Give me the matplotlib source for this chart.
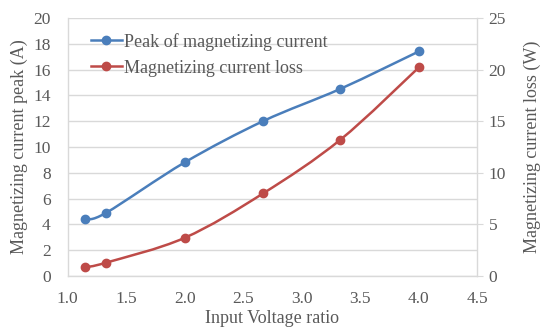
import matplotlib
matplotlib.use("Agg")
import matplotlib.pyplot as plt
from matplotlib.path import Path
from matplotlib.patches import PathPatch
from matplotlib.lines import Line2D
import numpy as np

voltage_ratio = [1.15, 1.33, 2.0, 2.67, 3.33, 4.0]
peak_current = [4.4, 4.9, 8.8, 12.0, 14.5, 17.4]
current_loss = [0.85, 1.3, 3.7, 8.0, 13.2, 20.2]

x_ticks = [1.0, 1.5, 2.0, 2.5, 3.0, 3.5, 4.0, 4.5]
y_left_ticks = list(range(0, 21, 2))
y_right_ticks = list(range(0, 26, 5))

BLUE = "#4A7EBB"
RED = "#BE4B48"
TXT = "#595959"
GRID = "#D9D9D9"

plt.rcParams['font.family'] = ['Liberation Serif', 'DejaVu Serif']


def smooth_path(xs, ys):
    pts = np.column_stack([xs, ys]).astype(float)
    n = len(pts)
    verts = [pts[0]]
    codes = [Path.MOVETO]
    for i in range(n - 1):
        p0 = pts[i - 1] if i > 0 else pts[i]
        p1 = pts[i]
        p2 = pts[i + 1]
        p3 = pts[i + 2] if i + 2 < n else pts[i + 1]
        c1 = p1 + (p2 - p0) / 6.0
        c2 = p2 - (p3 - p1) / 6.0
        verts += [c1, c2, p2]
        codes += [Path.CURVE4] * 3
    return Path(verts, codes)


fig = plt.figure(figsize=(5.4, 3.31), dpi=100)
ax = fig.add_axes([0.125, 0.166, 0.759, 0.78])
ax2 = ax.twinx()

ax.set_xlim(1.0, 4.5)
ax.set_ylim(0, 20)
ax2.set_ylim(0, 25)
ax.set_xticks(x_ticks)
ax.set_xticklabels([f"{v:.1f}" for v in x_ticks])
ax.set_yticks(y_left_ticks)
ax2.set_yticks(y_right_ticks)

ax.grid(axis='y', color=GRID, linewidth=1.0)
ax.set_axisbelow(True)

for a in (ax, ax2):
    for s in a.spines.values():
        s.set_color(GRID)
        s.set_linewidth(1.0)
    a.spines['top'].set_visible(False)
    a.tick_params(colors=TXT, labelsize=12.5, length=0)
ax.tick_params(axis='x', pad=11)
ax.tick_params(axis='y', pad=12)
ax2.tick_params(axis='y', length=4, color=GRID, pad=4)
ax.spines['right'].set_visible(False)
ax2.spines['left'].set_visible(False)
ax2.spines['bottom'].set_visible(False)

ax.add_patch(PathPatch(smooth_path(voltage_ratio, peak_current), fill=False,
                       edgecolor=BLUE, linewidth=1.8, zorder=3))
ax.plot(voltage_ratio, peak_current, 'o', color=BLUE, markersize=6, zorder=4)
ax2.add_patch(PathPatch(smooth_path(voltage_ratio, current_loss), fill=False,
                        edgecolor=RED, linewidth=1.8, zorder=3))
ax2.plot(voltage_ratio, current_loss, 'o', color=RED, markersize=6, zorder=4)

ax.set_ylabel("Magnetizing current peak (A)", color=TXT, fontsize=13, labelpad=4)
ax2.set_ylabel("Magnetizing current loss (W)", color=TXT, fontsize=13, labelpad=13)
ax.set_xlabel("Input Voltage ratio", color=TXT, fontsize=13, labelpad=2)

handles = [Line2D([], [], color=BLUE, marker='o', markersize=6, linewidth=1.8),
           Line2D([], [], color=RED, marker='o', markersize=6, linewidth=1.8)]
leg = ax2.legend(handles, ["Peak of magnetizing current", "Magnetizing current loss"],
                 loc='upper left', bbox_to_anchor=(0.04, 0.97), frameon=False,
                 fontsize=13, handlelength=1.7, handletextpad=0.12, labelspacing=0.5,
                 borderaxespad=0)
for t in leg.get_texts():
    t.set_color(TXT)

fig.savefig("out.png", dpi=100)
